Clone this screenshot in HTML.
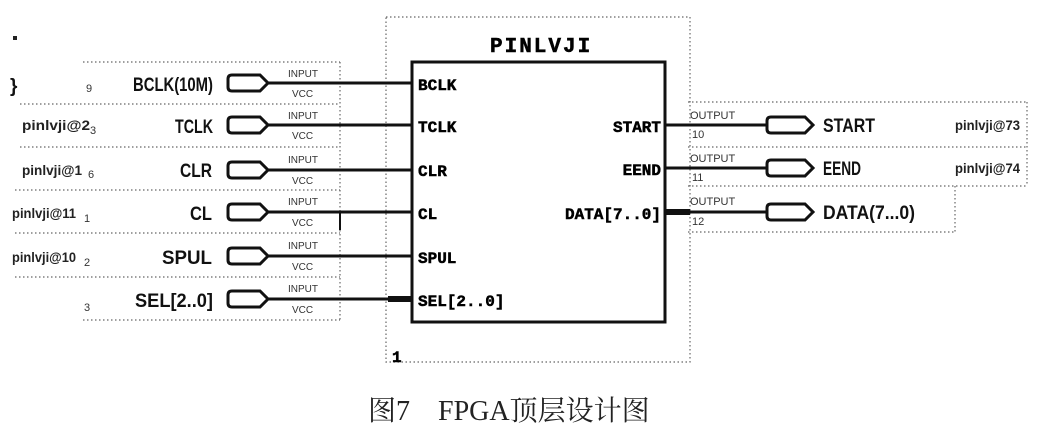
<!DOCTYPE html>
<html><head><meta charset="utf-8"><style>
html,body{margin:0;padding:0;background:#fff;}
svg{display:block}
.l{font-family:"Liberation Sans",sans-serif;font-size:19px;fill:#111;font-weight:bold}
.s{font-family:"Liberation Sans",sans-serif;font-size:14px;fill:#222;font-weight:bold}
.t{font-family:"Liberation Sans",sans-serif;font-size:10px;fill:#333}
.p{font-family:"Liberation Mono",monospace;font-size:16px;fill:#000;font-weight:bold;stroke:#000;stroke-width:0.5}
.d{stroke:#666;stroke-width:1.2;stroke-dasharray:1.5 2.5;fill:none}
.w{stroke:#111;stroke-width:3;fill:none}
.pin{stroke:#111;stroke-width:3;fill:#fff}
</style></head><body>
<svg width="1045" height="432" xmlns="http://www.w3.org/2000/svg">
<rect width="1045" height="432" fill="#fff"/>
<rect x="13" y="36" width="4" height="4" fill="#222"/>
<text x="10" y="92" class="l">}</text>
<rect x="386" y="17" width="304" height="345" class="d"/>
<text x="490" y="52" class="p" style="font-size:21px;letter-spacing:2px">PINLVJI</text>
<rect x="412" y="62" width="253" height="260" fill="#fff" stroke="#111" stroke-width="3"/>
<text x="392" y="362" class="p">1</text>
<g class="d">
<line x1="83" y1="62" x2="340" y2="62"/>
<line x1="20" y1="104" x2="340" y2="104"/>
<line x1="20" y1="147" x2="340" y2="147"/>
<line x1="15" y1="190" x2="340" y2="190"/>
<line x1="15" y1="233" x2="340" y2="233"/>
<line x1="15" y1="277" x2="340" y2="277"/>
<line x1="83" y1="320" x2="340" y2="320"/>
<line x1="340" y1="62" x2="340" y2="320"/>
</g>
<g>
<path class="pin" d="M232 75 h28 l8 8 l-8 8 h-28 q-4 0 -4 -4 v-8 q0 -4 4 -4 z"/><line class="w" x1="268" y1="83" x2="412" y2="83"/>
<path class="pin" d="M232 117 h28 l8 8 l-8 8 h-28 q-4 0 -4 -4 v-8 q0 -4 4 -4 z"/><line class="w" x1="268" y1="125" x2="412" y2="125"/>
<path class="pin" d="M232 162 h28 l8 8 l-8 8 h-28 q-4 0 -4 -4 v-8 q0 -4 4 -4 z"/><line class="w" x1="268" y1="170" x2="412" y2="170"/>
<path class="pin" d="M232 204 h28 l8 8 l-8 8 h-28 q-4 0 -4 -4 v-8 q0 -4 4 -4 z"/><line class="w" x1="268" y1="212" x2="412" y2="212"/>
<line class="w" x1="340" y1="212" x2="340" y2="230" style="stroke-width:2"/>
<path class="pin" d="M232 248 h28 l8 8 l-8 8 h-28 q-4 0 -4 -4 v-8 q0 -4 4 -4 z"/><line class="w" x1="268" y1="256" x2="412" y2="256"/>
<path class="pin" d="M232 291 h28 l8 8 l-8 8 h-28 q-4 0 -4 -4 v-8 q0 -4 4 -4 z"/><line class="w" x1="268" y1="299" x2="412" y2="299"/>
<line x1="388" y1="299" x2="412" y2="299" stroke="#111" stroke-width="6"/>
</g>
<g class="t">
<text x="288" y="77">INPUT</text><text x="292" y="97">VCC</text>
<text x="288" y="119">INPUT</text><text x="292" y="139">VCC</text>
<text x="288" y="163">INPUT</text><text x="292" y="184">VCC</text>
<text x="288" y="205">INPUT</text><text x="292" y="226">VCC</text>
<text x="288" y="249">INPUT</text><text x="292" y="270">VCC</text>
<text x="288" y="292">INPUT</text><text x="292" y="313">VCC</text>
</g>
<g class="l" style="font-size:19px">
<text x="133" y="91" textLength="80" lengthAdjust="spacingAndGlyphs">BCLK(10M)</text>
<text x="175" y="133" textLength="38" lengthAdjust="spacingAndGlyphs">TCLK</text>
<text x="180" y="177" textLength="32" lengthAdjust="spacingAndGlyphs">CLR</text>
<text x="190" y="220" textLength="22" lengthAdjust="spacingAndGlyphs">CL</text>
<text x="162" y="264" textLength="50" lengthAdjust="spacingAndGlyphs">SPUL</text>
<text x="135" y="307" textLength="78" lengthAdjust="spacingAndGlyphs">SEL[2..0]</text>
</g>
<g class="s">
<text x="22" y="130" textLength="68" lengthAdjust="spacingAndGlyphs">pinlvji@2</text>
<text x="22" y="175" textLength="60" lengthAdjust="spacingAndGlyphs">pinlvji@1</text>
<text x="12" y="218" textLength="64" lengthAdjust="spacingAndGlyphs">pinlvji@11</text>
<text x="12" y="262" textLength="64" lengthAdjust="spacingAndGlyphs">pinlvji@10</text>
</g>
<g class="t" style="font-size:11px">
<text x="86" y="92">9</text><text x="90" y="134">3</text><text x="88" y="178">6</text>
<text x="84" y="222">1</text><text x="84" y="266">2</text><text x="84" y="311">3</text>
</g>
<g class="p">
<text x="418" y="90">BCLK</text>
<text x="418" y="132">TCLK</text>
<text x="418" y="176">CLR</text>
<text x="418" y="219">CL</text>
<text x="418" y="263">SPUL</text>
<text x="418" y="306">SEL[2..0]</text>
<text x="661" y="132" text-anchor="end">START</text>
<text x="661" y="175" text-anchor="end">EEND</text>
<text x="661" y="219" text-anchor="end">DATA[7..0]</text>
</g>
<g class="d">
<line x1="688" y1="102" x2="1027" y2="102"/>
<line x1="688" y1="147" x2="1027" y2="147"/>
<line x1="688" y1="186" x2="1027" y2="186"/>
<line x1="688" y1="232" x2="955" y2="232"/>
<line x1="1027" y1="102" x2="1027" y2="186"/>
<line x1="955" y1="186" x2="955" y2="232"/>
</g>
<line class="w" x1="665" y1="125" x2="767" y2="125"/>
<line class="w" x1="665" y1="168" x2="767" y2="168"/>
<line class="w" x1="665" y1="212" x2="767" y2="212"/>
<line x1="665" y1="212" x2="690" y2="212" stroke="#111" stroke-width="6"/>
<path class="pin" d="M771 117 h34 l8 8 l-8 8 h-34 q-4 0 -4 -4 v-8 q0 -4 4 -4 z"/>
<path class="pin" d="M771 160 h34 l8 8 l-8 8 h-34 q-4 0 -4 -4 v-8 q0 -4 4 -4 z"/>
<path class="pin" d="M771 204 h34 l8 8 l-8 8 h-34 q-4 0 -4 -4 v-8 q0 -4 4 -4 z"/>
<g class="t" style="font-size:11px">
<text x="690" y="119">OUTPUT</text><text x="692" y="138">10</text>
<text x="690" y="162">OUTPUT</text><text x="692" y="181">11</text>
<text x="690" y="205">OUTPUT</text><text x="692" y="225">12</text>
</g>
<g class="l" style="font-size:19px">
<text x="823" y="132" textLength="52" lengthAdjust="spacingAndGlyphs">START</text>
<text x="823" y="175" textLength="38" lengthAdjust="spacingAndGlyphs">EEND</text>
<text x="823" y="219" textLength="92" lengthAdjust="spacingAndGlyphs">DATA(7...0)</text>
</g>
<g class="s">
<text x="955" y="130" textLength="65" lengthAdjust="spacingAndGlyphs">pinlvji@73</text>
<text x="955" y="173" textLength="65" lengthAdjust="spacingAndGlyphs">pinlvji@74</text>
</g>
<text x="368" y="420" style="font-family:'Liberation Serif','Noto Serif CJK SC',serif;font-size:28px;fill:#222">图7　FPGA顶层设计图</text>
</svg>
</body></html>
